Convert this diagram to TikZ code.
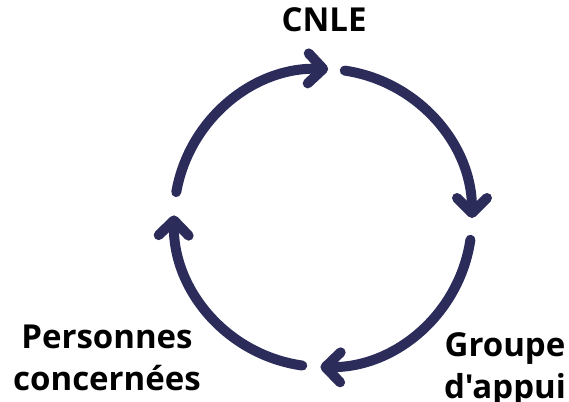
\documentclass[tikz,border=0pt]{standalone}
\usepackage{fontspec}
\setmainfont{Open Sans}[Ligatures=TeXOff]
\usetikzlibrary{arrows.meta,calc}
\definecolor{navy}{RGB}{44,44,90}
\begin{document}
\begin{tikzpicture}[x=1pt,y=1pt,
  cyc/.style={draw=navy,line width=10pt,line cap=round,line join=round,
    -{Straight Barb[length=15pt,width=30pt,line cap=round,line join=round]}},
  lbl/.style={font=\fontsize{33}{42}\selectfont\bfseries,text=black,align=center,inner sep=0pt}]
\useasboundingbox (0,0) rectangle (569,401);
\coordinate (c) at (323,183);
\node[lbl,anchor=base] (cnle) at (324,369) {CNLE};
\node[lbl,anchor=base] (pers) at (107,11) {Personnes\\concernées};
\node[lbl,anchor=base] (grp) at (505,3) {Groupe\\d'appui};
\draw[cyc] ($(c)+(170:149pt)$) arc[start angle=170,end angle=88,radius=149pt];
\draw[cyc] ($(c)+(81.6:149pt)$) arc[start angle=81.6,end angle=0,radius=149pt];
\draw[cyc] ($(c)+(-8.4:149pt)$) arc[start angle=-8.4,end angle=-91,radius=149pt];
\draw[cyc] ($(c)+(-98:149pt)$) arc[start angle=-98,end angle=-181,radius=149pt];
\end{tikzpicture}
\end{document}
